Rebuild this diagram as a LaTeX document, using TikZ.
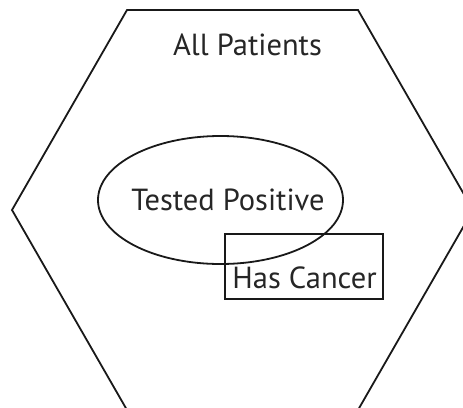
\documentclass[tikz,border=0pt]{standalone}
\usepackage{fontspec}
\setmainfont{PT Sans}
\usetikzlibrary{shapes.geometric}
\begin{document}
\begin{tikzpicture}[x=1pt,y=-1pt,
  shapeline/.style={draw=black!90, line width=1.8pt},
  lbl/.style={anchor=base, inner sep=0pt, font=\fontsize{30.5}{33}\selectfont, text=black!85}]
\useasboundingbox (0,0) rectangle (463,407);
\begin{scope}
\clip (0,0) rectangle (463,407);
\draw[shapeline] (127,10) -- (358,10) -- (473,210) -- (358,410) -- (127,410) -- (12,210) -- cycle;
\end{scope}
\node[shapeline, ellipse, minimum width=245, minimum height=128, inner sep=0pt] (tp) at (220.5,200) {};
\node[shapeline, rectangle, minimum width=158, minimum height=65, inner sep=0pt] (hc) at (304,266.5) {};
\node[lbl] (ap) at (247.5,55) {All Patients};
\node[lbl] (tpl) at (228,210) {Tested Positive};
\node[lbl] (hcl) at (304.5,288) {Has Cancer};
\end{tikzpicture}
\end{document}
